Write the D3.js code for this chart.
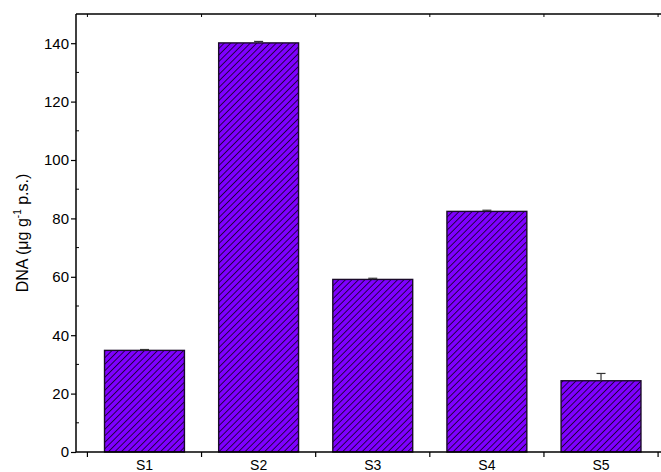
<!DOCTYPE html>
<html>
<head>
<meta charset="utf-8">
<script src="https://cdn.jsdelivr.net/npm/d3@7/dist/d3.min.js"></script>
<style>
  html, body { margin: 0; padding: 0; background: #fff; }
  svg { display: block; }
  text { font-family: "Liberation Sans", Arial, sans-serif; }
</style>
</head>
<body>
<svg id="chart" width="661" height="472"></svg>
<script>
// Sample data: DNA content per sample
const categories = ["S1", "S2", "S3", "S4", "S5"];
const values = [34.8, 140.1, 59.1, 82.4, 24.4];
const errors = [0.3, 0.5, 0.4, 0.4, 2.5];
const yTicks = [0, 20, 40, 60, 80, 100, 120, 140];

const svg = d3.select("#chart");
const W = 661, H = 472;

// Numeric x axis: category i sits at i+1, frame spans 0.4..5.6
const x = d3.scaleLinear().domain([0.4, 5.6]).range([76, 669.5]);
const y = d3.scaleLinear().domain([0, 150]).range([452, 14]);
const barW = 0.7;

// Hatch pattern: purple fill with black diagonal lines
const defs = svg.append("defs");
const pat = defs.append("pattern")
  .attr("id", "hatch")
  .attr("patternUnits", "userSpaceOnUse")
  .attr("width", 4.6).attr("height", 4.6)
  .attr("patternTransform", "rotate(45)");
pat.append("rect").attr("width", 4.6).attr("height", 4.6).attr("fill", "#7f00ff");
pat.append("line").attr("x1", 0).attr("y1", 0).attr("x2", 0).attr("y2", 4.6)
  .attr("stroke", "#000").attr("stroke-width", 1.4);

// Bars
svg.append("g").selectAll("rect")
  .data(values)
  .join("rect")
  .attr("x", (d, i) => x(i + 1 - barW / 2))
  .attr("width", (d, i) => x(i + 1 + barW / 2) - x(i + 1 - barW / 2))
  .attr("y", d => y(d))
  .attr("height", d => y(0) - y(d))
  .attr("fill", "url(#hatch)")
  .attr("stroke", "#1a0a2a")
  .attr("stroke-width", 1.4);

// Error bars (upper half only)
const eg = svg.append("g").attr("stroke", "#333").attr("stroke-width", 1.2);
values.forEach((v, i) => {
  const cx = x(i + 1);
  eg.append("line").attr("x1", cx).attr("x2", cx)
    .attr("y1", y(v)).attr("y2", y(v + errors[i]));
  eg.append("line").attr("x1", cx - 4.5).attr("x2", cx + 4.5)
    .attr("y1", y(v + errors[i])).attr("y2", y(v + errors[i]));
});

// Frame
const fg = svg.append("g").attr("stroke", "#000").attr("stroke-width", 1.5).attr("fill", "none");
fg.append("line").attr("x1", x(0.4)).attr("x2", W).attr("y1", y(0)).attr("y2", y(0));
fg.append("line").attr("x1", x(0.4)).attr("x2", W).attr("y1", y(150)).attr("y2", y(150));
fg.append("line").attr("x1", x(0.4)).attr("x2", x(0.4)).attr("y1", y(0)).attr("y2", y(150));

// Left axis: major ticks outward, minor ticks inward
const yAxis = d3.axisLeft(y).tickValues(yTicks).tickSize(5).tickPadding(2).tickFormat(d3.format("d"));
const ya = svg.append("g").attr("transform", `translate(${x(0.4)},0)`).call(yAxis);
ya.select(".domain").remove();
ya.selectAll("line").attr("stroke", "#000").attr("stroke-width", 1.2);
ya.selectAll("text").attr("font-size", 15).attr("fill", "#000");
const minor = d3.range(10, 150, 20);
svg.append("g").selectAll("line").data(minor).join("line")
  .attr("x1", x(0.4)).attr("x2", x(0.4) + 3)
  .attr("y1", d => y(d)).attr("y2", d => y(d))
  .attr("stroke", "#000").attr("stroke-width", 1);

// Bottom axis: ticks between categories, labels at category centres
const xb = d3.range(0.5, 6, 1);
svg.append("g").selectAll("line").data(xb).join("line")
  .attr("x1", d => x(d)).attr("x2", d => x(d))
  .attr("y1", y(0)).attr("y2", y(0) + 5)
  .attr("stroke", "#000").attr("stroke-width", 1.2);
svg.append("g").selectAll("line").data(xb).join("line")
  .attr("x1", d => x(d)).attr("x2", d => x(d))
  .attr("y1", y(150)).attr("y2", y(150) + 3)
  .attr("stroke", "#000").attr("stroke-width", 1);
svg.append("g").selectAll("text").data(categories).join("text")
  .attr("x", (d, i) => x(i + 1))
  .attr("y", 470)
  .attr("text-anchor", "middle")
  .attr("font-size", 14)
  .text(d => d);

// Y axis title
const title = svg.append("text")
  .attr("transform", `translate(28,${(y(0) + y(150)) / 2}) rotate(-90)`)
  .attr("text-anchor", "middle")
  .attr("font-size", 16);
title.append("tspan").text("DNA (\u03bcg g");
title.append("tspan").attr("dy", -7).attr("font-size", 10).text("-1");
title.append("tspan").attr("dy", 7).text(" p.s.)");
</script>
</body>
</html>
